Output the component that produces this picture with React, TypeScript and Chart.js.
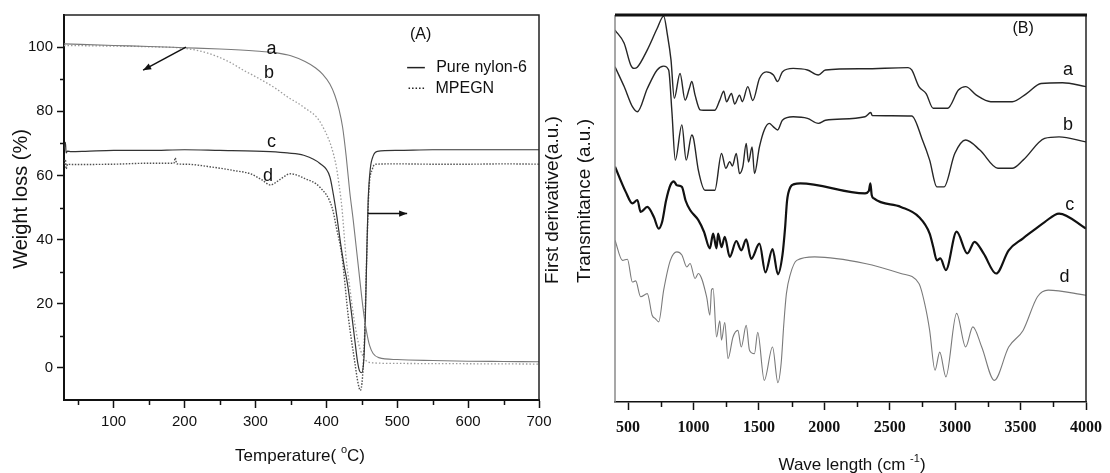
import React, { useEffect, useRef } from 'react';
import { Chart, registerables } from 'chart.js';

Chart.register(...registerables);

const SANS = "'Liberation Sans', Arial, sans-serif";
const SERIF = "'Liberation Serif', 'Times New Roman', serif";

// ---------- Panel A (TGA / DTG) ----------
const tempTicks = [50, 100, 150, 200, 250, 300, 350, 400, 450, 500, 550, 600, 650, 700];
const weightTicks = [0, 10, 20, 30, 40, 50, 60, 70, 80, 90, 100];

// a: TGA pure nylon-6
const tgaNylonT = [30, 100, 150, 200, 250, 300, 330, 350, 370, 385, 395, 405, 412, 418, 423, 428, 433, 438, 442, 446, 450, 454, 457, 461, 466, 474, 500, 550, 600, 650, 700];
const tgaNylonW = [101, 100.5, 100.2, 99.8, 99.4, 98.8, 98.2, 97.3, 95.5, 93.5, 91.5, 88.5, 85, 80.5, 75, 66, 55, 46, 38, 30, 22, 15, 11, 7, 4.5, 3.2, 2.6, 2.3, 2.1, 2, 1.9];

// b: TGA MPEGN
const tgaMpegT = [30, 100, 150, 200, 230, 262, 283, 300, 328, 345, 368, 393, 413, 418, 422, 425, 428, 432, 436, 440, 445, 450, 455, 465, 500, 600, 700];
const tgaMpegW = [100.5, 100.3, 100.1, 99.6, 98.3, 95.5, 92.8, 90.8, 87.2, 84.5, 81.3, 76, 64, 57, 50, 42, 34, 27, 20, 14, 8, 4.5, 2.5, 1.6, 1.4, 1.3, 1.2];

// c: DTG pure nylon-6
const dtgNylonT = [30, 32, 33, 35, 40, 60, 100, 150, 200, 250, 300, 321, 345, 368, 391, 405, 410, 415, 420, 425, 430, 435, 440, 444, 447, 450, 453, 455, 457, 459, 462, 466, 472, 500, 550, 600, 650, 700];
const dtgNylonV = [68, 70.3, 67, 67.6, 67.4, 67.5, 67.8, 67.8, 68, 67.8, 67.6, 67.4, 67, 66.3, 63.7, 59.6, 54, 47, 39, 32, 26, 18, 9, 2, -1, -1.5, 3, 15, 35, 52, 62, 66, 67.5, 67.8, 68, 68, 68, 68];

// d: DTG MPEGN
const dtgMpegT = [30, 32, 33, 35, 40, 100, 150, 185, 187, 189, 200, 242, 270, 293, 310, 321, 335, 349, 370, 391, 408, 415, 422, 431, 440, 445, 448, 451, 454, 457, 460, 465, 470, 500, 550, 600, 650, 700];
const dtgMpegV = [63.5, 65, 62, 63.5, 63.4, 63.5, 63.8, 63.8, 65.5, 63.6, 63.5, 62.5, 61.5, 60.5, 58.5, 57, 58.8, 60.5, 59, 56.3, 50.1, 42.9, 35, 16, 2, -5, -7, -3, 10, 35, 55, 62, 63.5, 63.6, 63.5, 63.5, 63.6, 63.5];

// ---------- Panel B (FTIR) ----------
const waveTicks = [500, 750, 1000, 1250, 1500, 1750, 2000, 2250, 2500, 2750, 3000, 3250, 3500, 3750, 4000];

const ftirAW = [400, 470, 520, 545, 570, 647, 722, 772, 800, 828, 853, 897, 936, 968, 987, 1012, 1050, 1075, 1163, 1201, 1231, 1252, 1290, 1315, 1352, 1373, 1415, 1453, 1504, 1556, 1611, 1643, 1679, 1762, 1871, 1954, 2009, 2300, 2640, 2668, 2723, 2778, 2832, 2942, 3025, 3080, 3162, 3272, 3436, 3546, 3656, 3821, 4000];
const ftirAT = [96.1, 92.7, 87.1, 86.2, 86.5, 91, 96.5, 99.7, 95, 88.4, 78.5, 84.9, 78, 81, 82.8, 79.3, 75.5, 75.4, 75.4, 78, 80.3, 77.6, 79.7, 77, 79.3, 77.6, 81.5, 77.9, 83.6, 85.3, 84.5, 82.8, 85.3, 86.2, 85.8, 84.5, 85.8, 86.1, 86.4, 85.8, 81.5, 79.7, 75.9, 75.9, 80.6, 81.5, 79.3, 77.6, 77.6, 79.7, 82.3, 82.5, 81.5];

const ftirBW = [400, 470, 533, 571, 647, 722, 772, 810, 835, 861, 911, 944, 987, 1000, 1037, 1088, 1163, 1214, 1247, 1277, 1297, 1327, 1352, 1377, 1403, 1420, 1448, 1466, 1504, 1541, 1579, 1611, 1643, 1679, 1762, 1871, 1954, 2009, 2311, 2355, 2366, 2668, 2750, 2805, 2860, 2915, 2997, 3080, 3189, 3327, 3436, 3519, 3684, 3794, 4000];
const ftirBT = [86.6, 81.5, 76.3, 75, 81, 85.8, 86.8, 85.8, 75, 62.5, 71.6, 62.5, 69, 68.1, 59.9, 54.7, 54.7, 64.2, 60.4, 62.1, 61, 64.2, 59, 60.8, 66.8, 62, 65.9, 59, 65.9, 70.3, 72, 71.1, 70.3, 72.8, 73.7, 73.3, 72, 72.8, 73.7, 74.8, 74, 73.9, 67.7, 62.5, 55.6, 55.6, 64.2, 67.7, 65.1, 60.4, 60.4, 62.5, 68.1, 68.5, 67.2];

const ftirCW = [400, 482, 533, 571, 596, 647, 697, 734, 760, 790, 823, 850, 873, 911, 940, 974, 1037, 1080, 1125, 1150, 1176, 1188, 1214, 1239, 1277, 1327, 1365, 1403, 1441, 1504, 1550, 1604, 1645, 1680, 1700, 1715, 1740, 1770, 1817, 2311, 2340, 2352, 2362, 2379, 2585, 2723, 2805, 2832, 2860, 2887, 2929, 3011, 3093, 3148, 3217, 3313, 3409, 3519, 3601, 3684, 3794, 4000];
const ftirCT = [60.8, 54.3, 51.3, 52.2, 49.1, 50.4, 47.8, 44.8, 46.5, 52, 56, 57, 56, 55.6, 52, 49.6, 47, 44, 39.7, 43.5, 39.7, 43.5, 40, 42.7, 37.5, 41.6, 39.2, 42, 37, 40.9, 33.5, 39.5, 33, 38, 45, 52, 55.5, 56.3, 56.5, 53.9, 54.5, 56.5, 53.5, 52.6, 50.4, 47.8, 43.5, 40.1, 36.6, 37.1, 34.1, 44, 38.4, 41.4, 38.4, 33.2, 39.2, 42.3, 44.4, 46.5, 48.7, 44.8];

const ftirDW = [400, 457, 495, 533, 558, 596, 647, 684, 710, 734, 772, 823, 873, 911, 949, 974, 1012, 1037, 1100, 1125, 1138, 1150, 1176, 1201, 1214, 1239, 1264, 1302, 1339, 1365, 1403, 1428, 1466, 1491, 1541, 1604, 1645, 1670, 1690, 1710, 1740, 1789, 1926, 2311, 2585, 2723, 2778, 2805, 2846, 2882, 2929, 3011, 3080, 3135, 3203, 3299, 3409, 3519, 3629, 3711, 4000];
const ftirDT = [41.8, 36.6, 36.9, 31, 31.3, 27.2, 28, 22.4, 21.5, 20.7, 28.9, 36.6, 38.8, 38, 34.9, 35.8, 31.9, 33.2, 27.2, 22.4, 29, 29.3, 16.8, 21, 16, 20.5, 11.2, 16.8, 18.5, 14.2, 19.8, 13.4, 12.5, 18, 5.6, 14.2, 5, 10, 20, 28, 33, 36.6, 37.5, 35.8, 33.2, 30.6, 23.7, 18.5, 8.2, 12.9, 6.5, 22.9, 14.2, 19.4, 14.2, 5.6, 14.2, 18.5, 27.2, 28.9, 27.6];

function zip(xs: number[], ys: number[]) {
  return xs.map((x, i) => ({ x, y: ys[i] }));
}

function line(data: { x: number; y: number }[], color: string, width: number, dash: number[] = []) {
  return {
    data,
    borderColor: color,
    borderWidth: width,
    borderDash: dash,
    pointRadius: 0,
    fill: false,
    cubicInterpolationMode: 'monotone' as const,
  };
}

function arrow(ctx: CanvasRenderingContext2D, x1: number, y1: number, x2: number, y2: number) {
  ctx.beginPath();
  ctx.moveTo(x1, y1);
  ctx.lineTo(x2, y2);
  ctx.stroke();
  const a = Math.atan2(y2 - y1, x2 - x1);
  const L = 8, W = 3.2;
  ctx.beginPath();
  ctx.moveTo(x2, y2);
  ctx.lineTo(x2 - L * Math.cos(a) + W * Math.sin(a), y2 - L * Math.sin(a) - W * Math.cos(a));
  ctx.lineTo(x2 - L * Math.cos(a) - W * Math.sin(a), y2 - L * Math.sin(a) + W * Math.cos(a));
  ctx.closePath();
  ctx.fill();
}

function supTitle(ctx: CanvasRenderingContext2D, cx: number, cy: number, pre: string, sup: string, post: string, size: number, supSize: number) {
  ctx.font = `${size}px ${SANS}`;
  const w1 = ctx.measureText(pre).width;
  const w3 = ctx.measureText(post).width;
  ctx.font = `${supSize}px ${SANS}`;
  const w2 = ctx.measureText(sup).width;
  let x = cx - (w1 + w2 + w3) / 2;
  const base = cy + size * 0.36;
  ctx.textAlign = 'left';
  ctx.textBaseline = 'alphabetic';
  ctx.font = `${size}px ${SANS}`;
  ctx.fillText(pre, x, base);
  x += w1;
  ctx.font = `${supSize}px ${SANS}`;
  ctx.fillText(sup, x, base - size * 0.48);
  x += w2;
  ctx.font = `${size}px ${SANS}`;
  ctx.fillText(post, x, base);
}

function vText(ctx: CanvasRenderingContext2D, text: string, cx: number, cy: number, size: number) {
  ctx.save();
  ctx.translate(cx, cy);
  ctx.rotate(-Math.PI / 2);
  ctx.font = `${size}px ${SANS}`;
  ctx.textAlign = 'center';
  ctx.textBaseline = 'middle';
  ctx.fillText(text, 0, 0);
  ctx.restore();
}

// minor ticks (short) on an axis
function minorX(ctx: CanvasRenderingContext2D, scale: any, values: number[], y0: number, len: number) {
  ctx.beginPath();
  values.forEach((v) => {
    const p = Math.round(scale.getPixelForValue(v)) + 0.5;
    ctx.moveTo(p, y0);
    ctx.lineTo(p, y0 + len);
  });
  ctx.stroke();
}

function minorY(ctx: CanvasRenderingContext2D, scale: any, values: number[], x0: number, len: number) {
  ctx.beginPath();
  values.forEach((v) => {
    const p = Math.round(scale.getPixelForValue(v)) + 0.5;
    ctx.moveTo(x0, p);
    ctx.lineTo(x0 - len, p);
  });
  ctx.stroke();
}

const decorA = {
  id: 'decorA',
  afterDraw(chart: any) {
    const { ctx, chartArea: ca, scales } = chart;
    const x = scales.x, y = scales.y;
    const px = (v: number) => x.getPixelForValue(v);
    const py = (v: number) => y.getPixelForValue(v);
    ctx.save();
    ctx.strokeStyle = '#222';
    ctx.lineWidth = 1.5;
    ctx.beginPath();
    ctx.moveTo(ca.left, ca.top);
    ctx.lineTo(ca.right, ca.top);
    ctx.lineTo(ca.right, ca.bottom);
    ctx.stroke();

    // minor ticks
    ctx.strokeStyle = '#111';
    ctx.lineWidth = 1.5;
    minorX(ctx, x, tempTicks.filter((v) => v % 100 !== 0), ca.bottom, 5);
    minorY(ctx, y, weightTicks.filter((v) => v % 20 !== 0), ca.left, 4);

    ctx.fillStyle = '#111';
    ctx.textAlign = 'center';
    ctx.textBaseline = 'middle';
    ctx.font = `16px ${SANS}`;
    ctx.fillText('(A)', px(533), py(104));
    ctx.font = `18px ${SANS}`;
    ctx.fillText('a', px(322.7), py(99.5));
    ctx.fillText('b', px(319), py(92));
    ctx.fillText('c', px(322.7), py(70.3));
    ctx.fillText('d', px(317.8), py(59.8));

    // legend
    ctx.strokeStyle = '#222';
    ctx.lineWidth = 1.5;
    ctx.beginPath();
    ctx.moveTo(px(514), py(93.6));
    ctx.lineTo(px(539), py(93.6));
    ctx.stroke();
    ctx.setLineDash([1.5, 2]);
    ctx.beginPath();
    ctx.moveTo(px(516), py(87.2));
    ctx.lineTo(px(539), py(87.2));
    ctx.stroke();
    ctx.setLineDash([]);
    ctx.textAlign = 'left';
    ctx.font = `16px ${SANS}`;
    ctx.fillText('Pure nylon-6', px(555), py(93.6));
    ctx.fillText('MPEGN', px(554), py(87.2));

    // arrows
    ctx.strokeStyle = '#111';
    ctx.fillStyle = '#111';
    ctx.lineWidth = 1.5;
    arrow(ctx, px(202), py(100), px(141.6), py(92.8));
    arrow(ctx, px(458.6), py(48.1), px(514), py(48.1));

    // titles
    ctx.fillStyle = '#111';
    supTitle(ctx, 300, 455, 'Temperature( ', 'o', 'C)', 17, 11);
    vText(ctx, 'Weight loss (%)', 21, 199, 20);
    vText(ctx, 'First derivative(a.u.)', 553, 200, 19);
    ctx.restore();
  },
};

const decorB = {
  id: 'decorB',
  afterDraw(chart: any) {
    const { ctx, chartArea: ca, scales } = chart;
    const x = scales.x, y = scales.y;
    const px = (v: number) => x.getPixelForValue(v);
    const py = (v: number) => y.getPixelForValue(v);
    ctx.save();
    // left axis (grey)
    ctx.strokeStyle = '#8a8a8a';
    ctx.lineWidth = 1.5;
    ctx.beginPath();
    ctx.moveTo(ca.left, ca.top);
    ctx.lineTo(ca.left, ca.bottom);
    ctx.stroke();
    // right axis
    ctx.strokeStyle = '#222';
    ctx.beginPath();
    ctx.moveTo(ca.right, ca.top);
    ctx.lineTo(ca.right, ca.bottom);
    ctx.stroke();
    // thick top
    ctx.lineWidth = 3;
    ctx.strokeStyle = '#111';
    ctx.beginPath();
    ctx.moveTo(ca.left, ca.top);
    ctx.lineTo(ca.right + 1, ca.top);
    ctx.stroke();

    // minor ticks
    ctx.lineWidth = 1.5;
    minorX(ctx, x, waveTicks.filter((v) => v % 500 !== 0), ca.bottom, 5);

    ctx.fillStyle = '#111';
    ctx.textAlign = 'center';
    ctx.textBaseline = 'middle';
    ctx.font = `16px ${SANS}`;
    ctx.fillText('(B)', px(3519), py(96.6));
    ctx.font = `18px ${SANS}`;
    ctx.fillText('a', px(3862), py(85.8));
    ctx.fillText('b', px(3862), py(71.6));
    ctx.fillText('c', px(3876), py(51));
    ctx.fillText('d', px(3835), py(32.3));

    supTitle(ctx, 286, 464, 'Wave length (cm ', '-1', ')', 17, 11);
    vText(ctx, 'Transmitance (a.u.)', 19, 201, 19);
    ctx.restore();
  },
};

const majorOnly = (step: number) => (c: any) =>
  c.tick && Number(c.tick.value) % step === 0 ? '#111' : 'rgba(0,0,0,0)';

function buildA(canvas: HTMLCanvasElement) {
  return new Chart(canvas, {
    type: 'line',
    data: {
      datasets: [
        line(zip(tgaNylonT, tgaNylonW), '#7a7a7a', 1.1),
        line(zip(tgaMpegT, tgaMpegW), '#9c9c9c', 1.3, [1.5, 2]),
        line(zip(dtgNylonT, dtgNylonV), '#333333', 1.2),
        line(zip(dtgMpegT, dtgMpegV), '#505050', 1.4, [1.5, 1.5]),
      ],
    },
    options: {
      animation: false,
      responsive: false,
      devicePixelRatio: 1,
      events: [],
      layout: { padding: { left: 0, top: 15, right: 27, bottom: 0 } },
      plugins: { legend: { display: false }, tooltip: { enabled: false } },
      scales: {
        x: {
          type: 'linear',
          min: 30,
          max: 700,
          afterBuildTicks: (s: any) => {
            s.ticks = tempTicks.map((v) => ({ value: v }));
          },
          afterFit: (s: any) => {
            s.height = 73;
          },
          ticks: {
            callback: (v: any) => (Number(v) % 100 === 0 ? String(v) : ''),
            font: { family: SANS, size: 15 },
            color: '#111',
            maxRotation: 0,
            autoSkip: false,
            padding: 5,
          },
          grid: { drawOnChartArea: false, drawTicks: true, tickLength: 8, tickColor: majorOnly(100), tickWidth: 1.5 },
          border: { color: '#111', width: 2 },
        },
        y: {
          type: 'linear',
          min: -10,
          max: 110,
          afterBuildTicks: (s: any) => {
            s.ticks = weightTicks.map((v) => ({ value: v }));
          },
          afterFit: (s: any) => {
            s.width = 64;
          },
          ticks: {
            callback: (v: any) => (Number(v) % 20 === 0 ? String(v) : ''),
            font: { family: SANS, size: 15 },
            color: '#111',
            autoSkip: false,
            padding: 4,
          },
          grid: { drawOnChartArea: false, drawTicks: true, tickLength: 7, tickColor: majorOnly(20), tickWidth: 1.5 },
          border: { color: '#111', width: 2 },
        },
      },
    },
    plugins: [decorA],
  } as any);
}

function buildB(canvas: HTMLCanvasElement) {
  return new Chart(canvas, {
    type: 'line',
    data: {
      datasets: [
        line(zip(ftirAW, ftirAT), '#262626', 1.4),
        line(zip(ftirBW, ftirBT), '#262626', 1.4),
        line(zip(ftirCW, ftirCT), '#111111', 2.2),
        line(zip(ftirDW, ftirDT), '#7a7a7a', 1.1),
      ],
    },
    options: {
      animation: false,
      responsive: false,
      devicePixelRatio: 1,
      events: [],
      layout: { padding: { left: 49, top: 15, right: 20, bottom: 0 } },
      plugins: { legend: { display: false }, tooltip: { enabled: false } },
      scales: {
        x: {
          type: 'linear',
          min: 400,
          max: 4000,
          afterBuildTicks: (s: any) => {
            s.ticks = waveTicks.map((v) => ({ value: v }));
          },
          afterFit: (s: any) => {
            s.height = 71;
          },
          ticks: {
            callback: (v: any) => (Number(v) % 500 === 0 ? String(v) : ''),
            font: { family: SERIF, size: 16, weight: 'bold' },
            color: '#111',
            maxRotation: 0,
            autoSkip: false,
            padding: 8,
          },
          grid: { drawOnChartArea: false, drawTicks: true, tickLength: 8, tickColor: majorOnly(500), tickWidth: 1.5 },
          border: { color: '#111', width: 1.5 },
        },
        y: {
          type: 'linear',
          min: 0,
          max: 100,
          display: false,
        },
      },
    },
    plugins: [decorB],
  } as any);
}

export default function App() {
  const refA = useRef<HTMLCanvasElement>(null);
  const refB = useRef<HTMLCanvasElement>(null);
  useEffect(() => {
    const ca = buildA(refA.current as HTMLCanvasElement);
    const cb = buildB(refB.current as HTMLCanvasElement);
    return () => {
      ca.destroy();
      cb.destroy();
    };
  }, []);
  return (
    <div style={{ position: 'absolute', left: 0, top: 0, width: 1110, height: 473, background: '#fff' }}>
      <canvas ref={refA} width={566} height={473} style={{ position: 'absolute', left: 0, top: 0 }} />
      <canvas ref={refB} width={544} height={473} style={{ position: 'absolute', left: 566, top: 0 }} />
    </div>
  );
}
